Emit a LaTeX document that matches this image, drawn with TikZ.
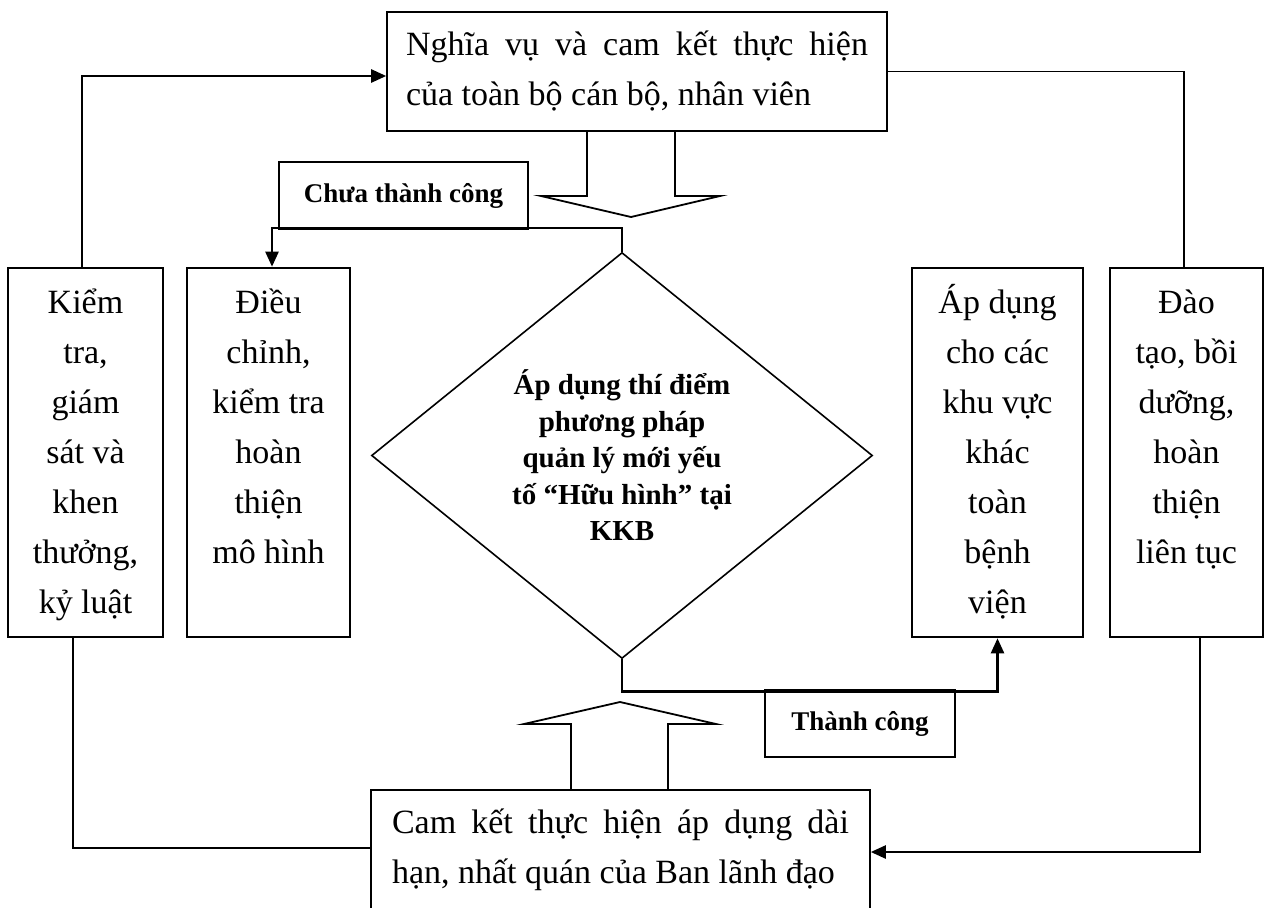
\documentclass[tikz,border=0pt]{standalone}
\usepackage{fontspec}
\setmainfont{Liberation Serif}
\usetikzlibrary{arrows.meta,shapes.geometric,calc}

% column text: top-aligned, centred lines, first baseline 45pt below the top
\newcommand{\sidecol}[2]{\parbox[c][369pt][t]{#1}{\centering\fontsize{34}{50}\selectfont\rule{0pt}{45pt}#2}}

\begin{document}
\begin{tikzpicture}[x=1pt,y=-1pt,
  box/.style={draw,line width=1.6pt,inner sep=0pt,align=center},
  thickbox/.style={box,line width=2.6pt},
  colbox/.style={minimum height=369pt},
  bigtext/.style={font=\fontsize{34}{50}\selectfont},
  labeltext/.style={font=\bfseries\fontsize{27}{30}\selectfont},
  conn/.style={line width=2.4pt,-{Triangle[length=15pt,width=13pt]}},
  plain/.style={line width=1.8pt},
  hollow/.style={line width=1.8pt,line join=miter}]

\fill[white] (0,0) rectangle (1265,907);
\useasboundingbox (0,0) rectangle (1265,907);

% top and bottom boxes
\node[box,bigtext,minimum width=500pt,minimum height=119pt,text width=462pt,align=justify]
  (top) at (637,71.5) {Nghĩa vụ và cam kết thực hiện\linebreak của toàn bộ cán bộ, nhân viên};
\node[box,bigtext,minimum width=499pt,minimum height=120pt,text width=457pt,align=justify]
  (bot) at (620.5,850) {Cam kết thực hiện áp dụng dài\linebreak hạn, nhất quán của Ban lãnh đạo};

% four columns
\node[box,colbox,minimum width=155pt] (kiem) at (85.5,452.5)
  {\sidecol{150pt}{Kiểm\\tra,\\giám\\sát và\\khen\\thưởng,\\kỷ luật}};
\node[thickbox,colbox,minimum width=163pt] (adj) at (268.5,452.5)
  {\sidecol{158pt}{Điều\\chỉnh,\\kiểm tra\\hoàn\\thiện\\mô hình}};
\node[thickbox,colbox,minimum width=171pt] (apply) at (997.5,452.5)
  {\sidecol{166pt}{Áp dụng\\cho các\\khu vực\\khác\\toàn\\bệnh\\viện}};
\node[box,colbox,minimum width=153pt] (dao) at (1186.5,452.5)
  {\sidecol{148pt}{Đào\\tạo, bồi\\dưỡng,\\hoàn\\thiện\\liên tục}};

% decision
\node[draw,diamond,line width=1.6pt,aspect=1.23,inner sep=0pt,
  minimum width=501pt,minimum height=406pt,align=center,
  font=\bfseries\fontsize{29}{36.5}\selectfont] (dia) at (622,455.5)
  {Áp dụng thí điểm\\phương pháp\\quản lý mới yếu\\tố “Hữu hình” tại\\KKB};

% outcome labels
\node[thickbox,labeltext,minimum width=249pt,minimum height=67pt] (fail) at (403.5,195.5) {Chưa thành công};
\node[thickbox,labeltext,minimum width=190pt,minimum height=67pt] (ok) at (860,723.5) {Thành công};

% outcome connectors
\draw[conn] (dia.north) -- ++(0,-24) -| ($(adj.north)+(3.5,0)$);
\draw[conn] (dia.south) -- ++(0,32) -| (apply.south);

% outer loop
\draw[conn] ($(kiem.north)+(-3.5,0)$) |- ($(top.west)+(0,4.5)$);
\draw[plain] (top.east) -| ($(dao.north)+(-2.5,0)$);
\draw[plain] ($(kiem.south)+(-12.5,0)$) |- ($(bot.west)+(0,-2)$);
\draw[conn] ($(dao.south)+(13.5,0)$) |- ($(bot.east)+(0,2)$);

% hollow block arrows
\draw[hollow] (587,131) -- (587,196) -- (541,196) -- (631,217) -- (720,196) -- (675,196) -- (675,131);
\draw[hollow] (571,790) -- (571,724) -- (524,724) -- (620,702) -- (716,724) -- (668,724) -- (668,790);

\end{tikzpicture}
\end{document}
